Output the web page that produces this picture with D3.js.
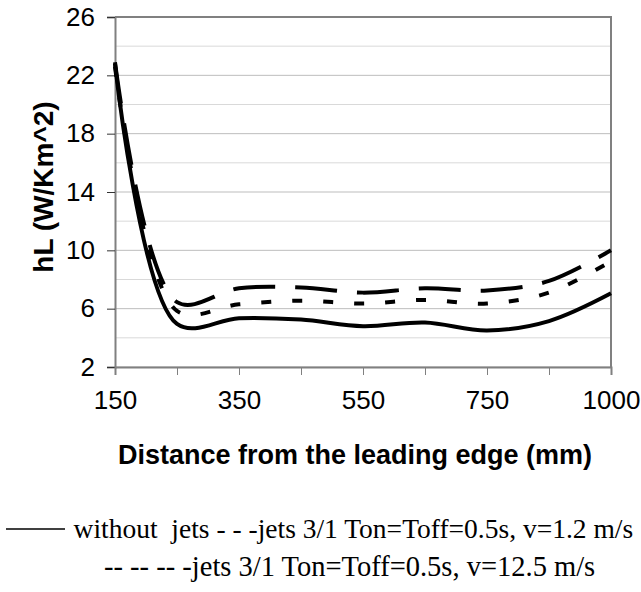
<!DOCTYPE html>
<html>
<head>
<meta charset="utf-8">
<script src="https://cdn.jsdelivr.net/npm/d3@7"></script>
<style>
  html, body { margin: 0; padding: 0; background: #fff; }
  svg { display: block; }
  text { white-space: pre; }
</style>
</head>
<body>
<svg id="chart" width="641" height="592"></svg>
<script>
// ---- data ----
const categories = ["150", "250", "350", "450", "550", "650", "750", "850", "1000"];
const xTickLabels = ["150", "350", "550", "750", "1000"];
const yTicks = [2, 6, 10, 14, 18, 22, 26];
const yGrid = [2, 4, 6, 8, 10, 12, 14, 16, 18, 20, 22, 24, 26];
const withoutJets = [22.8, 4.95, 5.35, 5.25, 4.8, 5.05, 4.5, 5.15, 7.05];
const jetsV12_5 = [22.9, 6.45, 7.4, 7.45, 7.1, 7.4, 7.25, 7.9, 10.0];
const jetsV1_2 = [22.6, 5.85, 6.3, 6.55, 6.35, 6.6, 6.35, 7.1, 9.25];
const legendLine1 = "without  jets - - -jets 3/1 Ton=Toff=0.5s, v=1.2 m/s";
const legendLine2 = "-- -- -- -jets 3/1 Ton=Toff=0.5s, v=12.5 m/s";
const xTitle = "Distance from the leading edge (mm)";
const yTitle = "hL (W/Km^2)";

// ---- layout ----
const L = 115, R = 611, T = 17, B = 367;
const svg = d3.select("#chart");

const x = d3.scalePoint().domain(categories).range([L, R]);
const y = d3.scaleLinear().domain([2, 26]).range([B, T]);

// gridlines
svg.append("g").selectAll("line").data(yGrid).join("line")
  .attr("x1", L).attr("x2", R)
  .attr("y1", d => y(d)).attr("y2", d => y(d))
  .attr("stroke", d => (d - 2) % 4 === 0 ? "#bdbdbd" : "#d9d9d9")
  .attr("stroke-width", 1);

// plot border (top/right)
svg.append("path")
  .attr("d", `M${L},${T}H${R}V${B}`)
  .attr("fill", "none").attr("stroke", "#808080").attr("stroke-width", 2);

// y axis
const yAxis = d3.axisLeft(y).tickValues(yTicks).tickSize(8).tickPadding(12);
const gy = svg.append("g").attr("transform", `translate(${L},0)`).call(yAxis);
gy.select(".domain").attr("stroke", "#808080").attr("stroke-width", 2);
gy.selectAll(".tick line").attr("stroke", "#333");
gy.selectAll(".tick text").attr("font-family", "Liberation Sans, Arial, sans-serif")
  .attr("font-size", 26).attr("fill", "#000");

// x axis
const xAxis = d3.axisBottom(x).tickSize(8).tickPadding(16)
  .tickFormat(d => xTickLabels.includes(d) ? d : "");
const gx = svg.append("g").attr("transform", `translate(0,${B})`).call(xAxis);
gx.select(".domain").attr("stroke", "#808080").attr("stroke-width", 2);
gx.selectAll(".tick line").attr("stroke", "#808080");
gx.selectAll(".tick text").attr("font-family", "Liberation Sans, Arial, sans-serif")
  .attr("font-size", 26).attr("fill", "#000");

// titles
svg.append("text")
  .attr("x", (L + R) / 2 - 8).attr("y", 464)
  .attr("text-anchor", "middle")
  .attr("font-family", "Liberation Sans, Arial, sans-serif")
  .attr("font-size", 27).attr("font-weight", "bold")
  .text(xTitle);

svg.append("text")
  .attr("transform", `translate(53,187) rotate(-90)`)
  .attr("text-anchor", "middle")
  .attr("font-family", "Liberation Sans, Arial, sans-serif")
  .attr("font-size", 28).attr("font-weight", "bold")
  .text(yTitle);

// lines
const line = d3.line()
  .x((d, i) => x(categories[i]))
  .y(d => y(d))
  .curve(d3.curveCatmullRom.alpha(0.5));

const series = [
  { values: withoutJets, dash: null },
  { values: jetsV1_2, dash: "10,21" },
  { values: jetsV12_5, dash: "42,20" }
];
svg.append("g").selectAll("path").data(series).join("path")
  .attr("d", d => line(d.values))
  .attr("fill", "none")
  .attr("stroke", "#000")
  .attr("stroke-width", 4)
  .attr("stroke-dasharray", d => d.dash);

// legend
svg.append("line")
  .attr("x1", 6).attr("x2", 65).attr("y1", 529).attr("y2", 529)
  .attr("stroke", "#000").attr("stroke-width", 1.5);

svg.append("text")
  .attr("x", 73.6).attr("y", 538)
  .attr("font-family", "Liberation Serif, Times New Roman, serif")
  .attr("font-size", 27.5)
  .text(legendLine1);

svg.append("text")
  .attr("x", 104).attr("y", 576)
  .attr("font-family", "Liberation Serif, Times New Roman, serif")
  .attr("font-size", 28.5)
  .text(legendLine2);
</script>
</body>
</html>
